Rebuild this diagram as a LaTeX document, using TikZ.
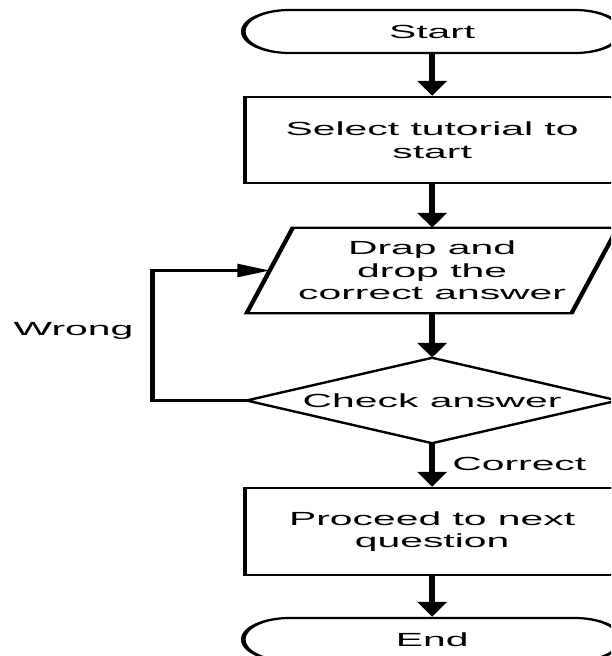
\documentclass[tikz,border=0pt]{standalone}
\usepackage{fontspec}
\setmainfont{Liberation Sans}
\usetikzlibrary{arrows.meta,calc}
\begin{document}
\begin{tikzpicture}[x=1pt,y=-1pt,
  every node/.style={font=\fontsize{19}{22.5}\selectfont, align=center, inner sep=0pt},
  box/.style={draw, line width=2.2pt, minimum width=174pt},
  term/.style={draw, line width=2.2pt, rounded corners=21.5pt,
               minimum width=175.8pt, minimum height=43pt},
  shapeframe/.style={minimum width=#1, minimum height=85pt},
  outline/.style={line width=2.2pt, line join=miter},
  flow/.style={line width=3pt, -{Triangle[length=15pt,width=13pt]}},
  back/.style={line width=2.4pt, -{Triangle[length=15pt,width=13pt]}},
  label/.style={inner sep=0pt}
]
\useasboundingbox (0,0) rectangle (611,656);
\clip (0,0) rectangle (611,656);
% the whole chart is drawn narrow and widened on the canvas
\begin{scope}[transform canvas={xscale=2.15}]
  \node[term] (start) at (201,31.5) {Start};
  \node[box, minimum height=86pt] (select) at (201,140)
       {Select tutorial to\\start};
  \node[shapeframe=150.7pt] (drop) at (201,270.5)
       {Drap and\\drop the\\correct answer};
  \node[shapeframe=172.2pt] (check) at (201,400.5) {Check answer};
  \node[box, minimum height=87pt] (proceed) at (201,531.5)
       {Proceed to next\\question};
  \node[term] (end) at (201,639.5) {End};

  % input/output parallelogram
  \draw[outline] ($(drop.south west)+(-10.7,0)$) -- ($(drop.north west)+(10.7,0)$)
     -- ($(drop.north east)+(10.7,0)$) -- ($(drop.south east)+(-10.7,0)$) -- cycle;
  % decision diamond
  \draw[outline] (check.north) -- (check.east) -- (check.south)
     -- (check.west) -- cycle;

  % main flow
  \draw[flow] (start) -- (select);
  \draw[flow] (select) -- (drop.north);
  \draw[flow] (drop.south) -- (check.north);
  \draw[flow] (check.south) -- (proceed);
  \draw[flow] (proceed) -- (end);

  % retry loop
  \draw[back] (check.west) -- ++(-43.7,0) coordinate (loopcorner)
      |- (drop.west);

  \node[label, anchor=base] (wrong) at (34.2,335) {Wrong};
  \node[label, anchor=base west] (correct) at (210.2,470) {Correct};
\end{scope}
\end{tikzpicture}
\end{document}
